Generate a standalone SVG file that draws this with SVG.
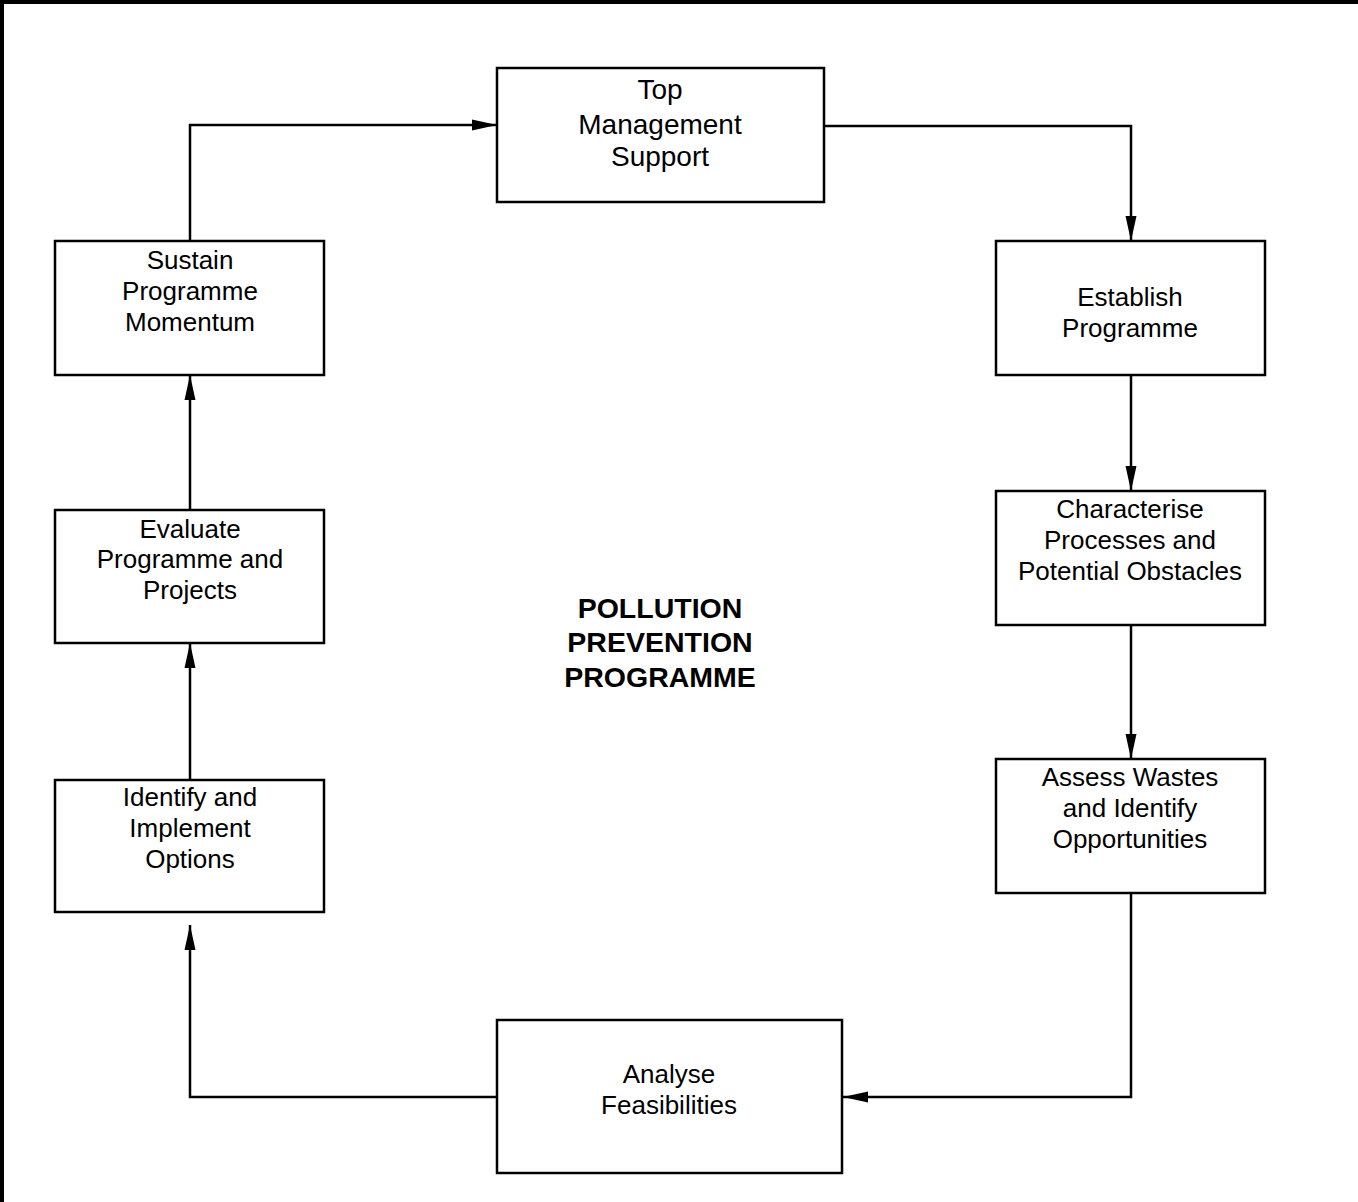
<svg xmlns="http://www.w3.org/2000/svg" width="1358" height="1202" viewBox="0 0 1358 1202">
  <style>
    .box { fill: #ffffff; stroke: #000000; stroke-width: 2.5; }
    .lbl { font-family: "Liberation Sans", Arial, sans-serif; font-size: 26px; fill: #000000; text-anchor: middle; }
    .big { font-size: 28px; }
    .title { font-family: "Liberation Sans", Arial, sans-serif; font-size: 28.5px; font-weight: bold; fill: #000000; text-anchor: middle; }
    .conn { fill: none; stroke: #000000; stroke-width: 2.5; }
  </style>
  <defs>
    <marker id="arrow" markerUnits="userSpaceOnUse" markerWidth="26" markerHeight="12" refX="25" refY="6" orient="auto">
      <path d="M0,0.5 L25,6 L0,11.5 z" fill="#000000"/>
    </marker>
  </defs>
  <rect x="0" y="0" width="1358" height="1202" fill="#ffffff"/>
  <rect x="2" y="2" width="1400" height="1300" fill="none" stroke="#000000" stroke-width="4"/>

  <g id="connectors">
    <path class="conn" d="M190,241 V125 H497" marker-end="url(#arrow)"/>
    <path class="conn" d="M824,126 H1131 V241" marker-end="url(#arrow)"/>
    <path class="conn" d="M1131,375 V491" marker-end="url(#arrow)"/>
    <path class="conn" d="M1131,625 V759" marker-end="url(#arrow)"/>
    <path class="conn" d="M1131,893 V1097 H843" marker-end="url(#arrow)"/>
    <path class="conn" d="M497,1097 H190 V925" marker-end="url(#arrow)"/>
    <path class="conn" d="M190,780 V643" marker-end="url(#arrow)"/>
    <path class="conn" d="M190,510 V375" marker-end="url(#arrow)"/>
  </g>

  <g id="top-management">
    <rect class="box" x="497" y="68" width="327" height="134"/>
    <text class="lbl big" x="660" y="99">Top</text>
    <text class="lbl big" x="660" y="134">Management</text>
    <text class="lbl big" x="660" y="166">Support</text>
  </g>
  <g id="establish">
    <rect class="box" x="996" y="241" width="269" height="134"/>
    <text class="lbl" x="1130" y="306">Establish</text>
    <text class="lbl" x="1130" y="337">Programme</text>
  </g>
  <g id="characterise">
    <rect class="box" x="996" y="491" width="269" height="134"/>
    <text class="lbl" x="1130" y="518">Characterise</text>
    <text class="lbl" x="1130" y="549">Processes and</text>
    <text class="lbl" x="1130" y="580">Potential Obstacles</text>
  </g>
  <g id="assess">
    <rect class="box" x="996" y="759" width="269" height="134"/>
    <text class="lbl" x="1130" y="786">Assess Wastes</text>
    <text class="lbl" x="1130" y="817">and Identify</text>
    <text class="lbl" x="1130" y="848">Opportunities</text>
  </g>
  <g id="analyse">
    <rect class="box" x="497" y="1020" width="345" height="153"/>
    <text class="lbl" x="669" y="1083">Analyse</text>
    <text class="lbl" x="669" y="1114">Feasibilities</text>
  </g>
  <g id="identify">
    <rect class="box" x="55" y="780" width="269" height="132"/>
    <text class="lbl" x="190" y="806">Identify and</text>
    <text class="lbl" x="190" y="837">Implement</text>
    <text class="lbl" x="190" y="868">Options</text>
  </g>
  <g id="evaluate">
    <rect class="box" x="55" y="510" width="269" height="133"/>
    <text class="lbl" x="190" y="538">Evaluate</text>
    <text class="lbl" x="190" y="568">Programme and</text>
    <text class="lbl" x="190" y="599">Projects</text>
  </g>
  <g id="sustain">
    <rect class="box" x="55" y="241" width="269" height="134"/>
    <text class="lbl" x="190" y="269">Sustain</text>
    <text class="lbl" x="190" y="300">Programme</text>
    <text class="lbl" x="190" y="331">Momentum</text>
  </g>
  <g id="center-title">
    <text class="title" x="660" y="618">POLLUTION</text>
    <text class="title" x="660" y="652">PREVENTION</text>
    <text class="title" x="660" y="687">PROGRAMME</text>
  </g>
</svg>
